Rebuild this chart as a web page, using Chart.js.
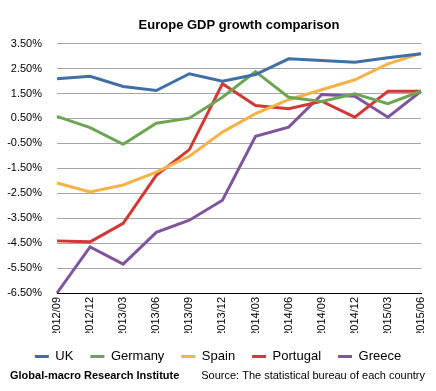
<!DOCTYPE html>
<html>
<head>
<meta charset="utf-8">
<script src="https://cdn.jsdelivr.net/npm/chart.js@4.4.1/dist/chart.umd.min.js"></script>
<style>
  html, body { margin: 0; padding: 0; background: #fff; }
  #wrap { width: 436px; height: 391px; }
</style>
</head>
<body>
<div id="wrap"><canvas id="gdpChart" width="436" height="391"></canvas></div>
<script>
// Quartale
const quarters = ['2012/09', '2012/12', '2013/03', '2013/06', '2013/09', '2013/12',
  '2014/03', '2014/06', '2014/09', '2014/12', '2015/03', '2015/06'];

const uk = [2.09, 2.19, 1.78, 1.62, 2.29, 1.99, 2.26, 2.89, 2.82, 2.75, 2.93, 3.09];
const germany = [0.58, 0.13, -0.54, 0.31, 0.51, 1.35, 2.38, 1.35, 1.18, 1.49, 1.09, 1.59];
const spain = [-2.09, -2.45, -2.17, -1.65, -1.02, -0.05, 0.69, 1.25, 1.65, 2.05, 2.69, 3.11];
const portugal = [-4.41, -4.45, -3.71, -1.78, -0.75, 1.89, 1.02, 0.89, 1.19, 0.55, 1.59, 1.59];
const greece = [-6.5, -4.65, -5.34, -4.07, -3.58, -2.78, -0.22, 0.15, 1.46, 1.39, 0.55, 1.59];

const FONT = '"Liberation Sans", Arial, Helvetica, sans-serif';

// Fusszeile unten
const footerText = {
  id: 'footerText',
  afterDraw(chart) {
    const c = chart.ctx;
    c.save();
    c.fillStyle = '#000';
    c.textBaseline = 'middle';
    c.font = 'bold 11px ' + FONT;
    c.textAlign = 'left';
    c.fillText('Global-macro Research Institute', 10, 376);
    c.font = '11px ' + FONT;
    c.textAlign = 'right';
    c.fillText('Source: The statistical bureau of each country', 425, 376);
    c.restore();
  }
};

function series(label, data, color) {
  return {
    label: label,
    data: data,
    borderColor: color,
    backgroundColor: color,
    borderWidth: 3,
    pointRadius: 0,
    tension: 0,
    fill: false
  };
}

const ctx = document.getElementById('gdpChart').getContext('2d');
new Chart(ctx, {
  type: 'line',
  data: {
    labels: quarters,
    datasets: [
      series('UK', uk, 'rgb(64,111,164)'),
      series('Germany', germany, 'rgb(108,166,84)'),
      series('Spain', spain, 'rgb(245,178,72)'),
      series('Portugal', portugal, 'rgb(208,58,54)'),
      series('Greece', greece, 'rgb(127,85,155)')
    ]
  },
  plugins: [footerText],
  options: {
    responsive: false,
    animation: false,
    layout: { padding: { left: 0, right: 0, top: 4, bottom: 18 } },
    plugins: {
      title: {
        display: true,
        fullSize: false,
        text: 'Europe GDP growth comparison',
        color: '#000',
        font: { family: FONT, size: 13, weight: 'bold' },
        padding: { top: 14, bottom: 10 }
      },
      legend: {
        position: 'bottom',
        labels: {
          color: '#000',
          font: { family: FONT, size: 13 },
          usePointStyle: true,
          pointStyle: 'line',
          pointStyleWidth: 14,
          boxHeight: 8.5,
          padding: 17
        }
      },
      tooltip: { enabled: false }
    },
    scales: {
      x: {
        offset: false,
        grid: { display: false, drawTicks: false },
        border: { display: true, color: '#000', width: 1 },
        ticks: {
          color: '#000',
          font: { family: FONT, size: 11 },
          minRotation: 90,
          maxRotation: 90,
          padding: 4,
          autoSkip: false
        },
        // Legende naeher an die Beschriftung, rechter Rand wie im Original
        afterFit: function (scale) {
          scale.height = 40;
          scale.paddingRight = 15;
        }
      },
      y: {
        min: -6.5,
        max: 3.5,
        grid: { color: '#a6a6a6', drawTicks: false },
        border: { display: false },
        ticks: {
          stepSize: 1,
          color: '#000',
          padding: 15,
          font: { family: FONT, size: 11 },
          callback: v => v.toFixed(2) + '%'
        },
        afterFit: function (scale) {
          scale.width = 57;
        }
      }
    }
  }
});
</script>
</body>
</html>
